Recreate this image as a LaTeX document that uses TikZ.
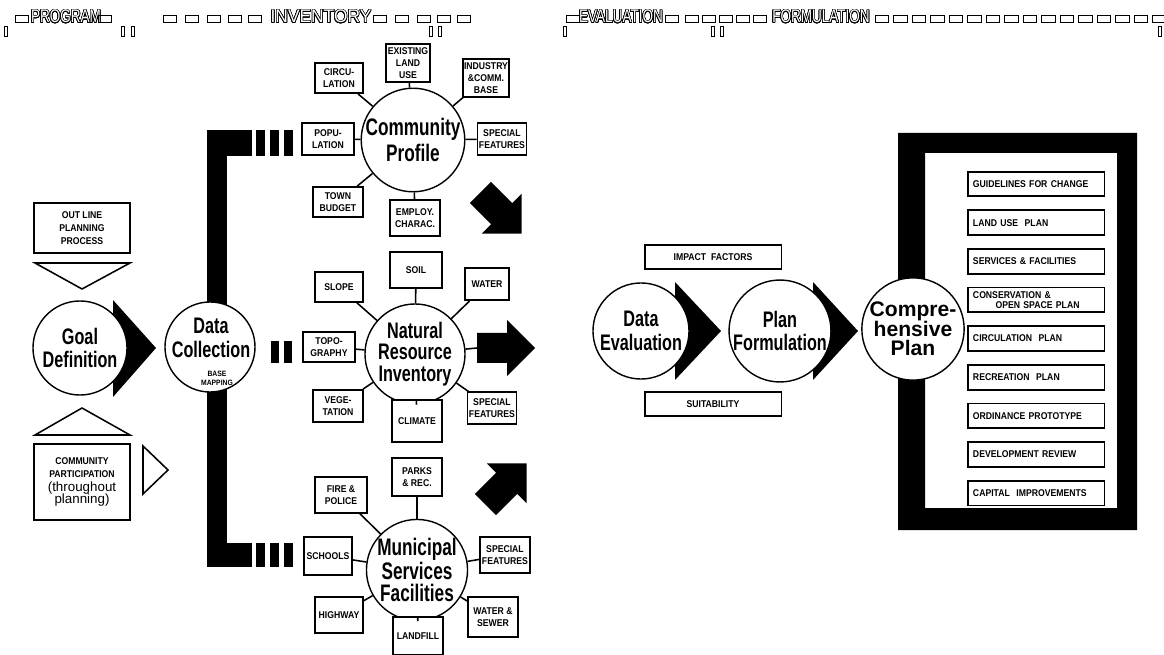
\documentclass[tikz,border=0pt]{standalone}
\usepackage{fontspec}
\setmainfont{Liberation Sans}
\newfontfamily\headfont[FakeStretch=0.74]{Liberation Sans}
\newfontfamily\headwide[FakeStretch=0.95]{Liberation Sans}
\newfontfamily\stagefont[FakeStretch=0.72]{Liberation Sans}
\newfontfamily\boxfont[FakeStretch=0.88]{Liberation Sans}
\usepackage{contour}
\contourlength{0.45pt}
\contournumber{24}
\newcommand{\hollow}[1]{{\color{white}\contour{black}{#1}}}
\usetikzlibrary{positioning, calc}

\begin{document}
\begin{tikzpicture}[x=0.025cm, y=-0.025cm,
  stage/.style={circle, draw, line width=1pt, fill=white, inner sep=0pt, align=center, font=\stagefont\bfseries\fontsize{16}{17}\selectfont},
  sat/.style={rectangle, draw, line width=1.3pt, fill=white, minimum width=1.25cm, minimum height=0.8cm, inner sep=1pt, align=center, font=\boxfont\bfseries\fontsize{7}{8.5}\selectfont},
  side/.style={rectangle, draw, line width=1.3pt, fill=white, minimum width=2.4cm, align=center, font=\boxfont\bfseries\fontsize{7}{9}\selectfont},
  factor/.style={rectangle, draw, line width=1.3pt, minimum width=3.42cm, minimum height=0.58cm, font=\boxfont\bfseries\fontsize{7}{7.5}\selectfont},
  plan/.style={rectangle, draw, line width=1.3pt, fill=white, text width=3.15cm, inner xsep=0.135cm, inner ysep=1pt, minimum height=0.62cm, align=left, font=\boxfont\bfseries\fontsize{7}{7.5}\selectfont},
  spoke/.style={line width=1.1pt},
  hdr/.style={font=\headfont\fontsize{13}{13}\selectfont, inner sep=0pt},
  dsh/.style={rectangle, draw, line width=0.8pt, minimum width=0.33cm, minimum height=0.16cm, inner sep=0pt},
  tick/.style={rectangle, draw, line width=0.7pt, minimum width=0.08cm, minimum height=0.25cm, inner sep=0pt},
  bigarrow/.pic={\fill (-29,-15) -- (1,-15) -- (1,-28) -- (29,0) -- (1,28) -- (1,15) -- (-29,15) -- cycle;},
]
\useasboundingbox (0,0) rectangle (1164,655);

% ── HEADER: phases along the dashed line ──
\node[hdr] (h_prog) at (66,17) {\hollow{PROGRAM}};
\node[hdr, font=\headwide\fontsize{13}{13}\selectfont] (h_inv) at (321,17) {\hollow{INVENTORY}};
\node[hdr] (h_eval) at (621,17) {\hollow{EVALUATION}};
\node[hdr] (h_form) at (821,17) {\hollow{FORMULATION}};
\foreach \x [count=\i] in {22,105,170,192,214,235,255,380,402,424,444,464,573,672,692,709,726,743,760}
  \node[dsh] (hd\i) at (\x,19) {};
\foreach \x [count=\i] in {882,900.5,...,1164}
  \node[dsh] (hr\i) at (\x,19) {};
\foreach \x [count=\i] in {6,123,133,431,440,565,713,722,1160}
  \node[tick] (tk\i) at (\x,31) {};

% ── PROGRAM: goal definition ──
\node[side, minimum height=1.25cm] (outline) at (82,228) {OUT LINE\\PLANNING\\PROCESS};
\draw[line width=1.1pt] (35,263) -- (130,263) -- (82,289) -- cycle;
\fill (113,300) -- (156,348) -- (113,397) -- cycle;
\node[stage, minimum size=2.35cm] (goal) at (80,348) {Goal\\Definition};
\draw[line width=1.1pt] (35,435) -- (130,435) -- (82,408) -- cycle;
\node[side, minimum height=1.88cm] (partic) at (82,482) {COMMUNITY\\PARTICIPATION\\[1pt]{\normalfont\fontsize{9.5}{10}\selectfont(throughout}\\{\normalfont\fontsize{9.5}{10}\selectfont planning)}};
\draw[line width=1.1pt] (143,446) -- (168,470) -- (143,494) -- cycle;

% ── INVENTORY: data collection bracket ──
\fill (207,130) rectangle (227,567);
\fill (207,130) rectangle (252,156);
\fill (207,543) rectangle (252,567);
\foreach \x in {256,270,284} {
  \fill (\x,130) rectangle ++(9,26);
  \fill (\x,543) rectangle ++(9,24);
}
\foreach \x in {271,284} \fill (\x,341) rectangle ++(8,22);
\node[stage, minimum size=2.25cm] (collect) at (210,347) {};
\node[font=\stagefont\bfseries\fontsize{16}{17}\selectfont, align=center, inner sep=0pt] (collect_t) at (211,338) {Data\\Collection};
\node[font=\boxfont\bfseries\fontsize{5.5}{6.5}\selectfont, align=center, inner sep=0pt] (collect_m) at (217,378) {BASE\\MAPPING};

% Community profile
\node[stage, minimum size=2.45cm, font=\stagefont\bfseries\fontsize{17}{18}\selectfont] (profile) at (413,140) {Community\\Profile};
\node[sat, minimum width=1cm, minimum height=0.93cm] (c_land) at (408,63) {EXISTING\\LAND\\USE};
\node[sat, minimum width=1.2cm, minimum height=0.75cm] (c_circ) at (339,78) {CIRCU-\\LATION};
\node[sat, minimum width=1.05cm, minimum height=0.93cm] (c_ind) at (486,78) {INDUSTRY\\\&COMM.\\BASE};
\node[sat, minimum width=1.3cm, minimum height=0.8cm] (c_pop) at (328,139) {POPU-\\LATION};
\node[sat, minimum width=1.2cm, minimum height=0.8cm] (c_spec) at (502,139) {SPECIAL\\FEATURES};
\node[sat, minimum width=1.25cm, minimum height=0.75cm] (c_town) at (338,202) {TOWN\\BUDGET};
\node[sat, minimum width=1.25cm, minimum height=0.88cm] (c_emp) at (415,218) {EMPLOY.\\CHARAC.};
\foreach \s in {c_land, c_circ, c_ind, c_pop, c_spec, c_town, c_emp}
  \draw[spoke] (profile) -- (\s);
\pic[rotate=-45] at (501,213) {bigarrow};

% Natural resource inventory
\node[stage, minimum size=2.5cm, font=\stagefont\bfseries\fontsize{16}{15.5}\selectfont] (natural) at (415,354) {Natural\\Resource\\Inventory};
\node[sat, minimum width=1.3cm, minimum height=0.9cm] (n_soil) at (416,270) {SOIL};
\node[sat, minimum width=1.2cm, minimum height=0.73cm] (n_slope) at (339,287) {SLOPE};
\node[sat, minimum width=1.08cm, minimum height=0.8cm] (n_water) at (487,284) {WATER};
\node[sat, minimum width=1.3cm, minimum height=0.75cm] (n_topo) at (329,347) {TOPO-\\GRAPHY};
\node[sat, minimum width=1.25cm, minimum height=0.8cm] (n_veg) at (338,406) {VEGE-\\TATION};
\node[sat, minimum width=1.25cm, minimum height=1.05cm] (n_clim) at (417,421) {CLIMATE};
\node[sat, minimum width=1.18cm, minimum height=0.78cm] (n_spec) at (492,408) {SPECIAL\\FEATURES};
\coordinate (n_arrow) at (477,348);
\foreach \s in {n_soil, n_slope, n_water, n_topo, n_veg, n_clim, n_spec, n_arrow}
  \draw[spoke] (natural) -- (\s);
\pic at (506,348) {bigarrow};

% Municipal services and facilities
\node[stage, minimum size=2.5cm, font=\stagefont\bfseries\fontsize{17}{15.5}\selectfont] (municipal) at (417,570) {Municipal\\Services\\Facilities};
\node[sat, minimum width=1.25cm, minimum height=0.93cm] (m_parks) at (417,477) {PARKS\\\& REC.};
\node[sat, minimum width=1.3cm, minimum height=0.88cm] (m_fire) at (341,495) {FIRE \&\\POLICE};
\node[sat, minimum width=1.2cm, minimum height=0.95cm] (m_school) at (328,556) {SCHOOLS};
\node[sat, minimum width=1.25cm, minimum height=0.9cm] (m_spec) at (505,555) {SPECIAL\\FEATURES};
\node[sat, minimum width=1.2cm, minimum height=0.9cm] (m_high) at (339,615) {HIGHWAY};
\node[sat, minimum width=1.25cm, minimum height=0.95cm] (m_land) at (418,636) {LANDFILL};
\node[sat, minimum width=1.25cm, minimum height=0.98cm] (m_water) at (493,617) {WATER \&\\SEWER};
\foreach \s in {m_parks, m_fire, m_school, m_spec, m_high, m_land, m_water}
  \draw[spoke] (municipal) -- (\s);
\pic[rotate=45] at (506,484) {bigarrow};

% ── EVALUATION ──
\node[factor] (impact) at (713,257) {IMPACT~~FACTORS};
\node[factor] (suit) at (713,404) {SUITABILITY};
\fill (675,282) -- (721,331) -- (675,380) -- cycle;
\node[stage, minimum size=2.4cm] (evalu) at (641,331) {Data\\Evaluation};

% ── FORMULATION ──
\fill (813,282) -- (858,331) -- (813,380) -- cycle;
\node[stage, minimum size=2.4cm] (formul) at (780,331) {Plan\\Formulation};
\fill[even odd rule] (898,133) rectangle (1137,530) (925,153) rectangle (1117,508);
\node[stage, minimum size=2.5cm, font=\bfseries\fontsize{15}{14}\selectfont] (compre) at (913,329) {Compre-\\hensive\\Plan};

% plan elements, stacked in the frame
\node[plan] (p_guide) at (1036,184) {GUIDELINES FOR CHANGE};
\node[plan, below=0.3cm of p_guide] (p_land) {LAND USE~~PLAN};
\node[plan, below=0.3cm of p_land] (p_serv) {SERVICES \& FACILITIES};
\node[plan, below=0.3cm of p_serv] (p_cons) {CONSERVATION \&\\\hspace*{2.3em}OPEN SPACE PLAN};
\node[plan, below=0.3cm of p_cons] (p_circ) {CIRCULATION~~PLAN};
\node[plan, below=0.3cm of p_circ] (p_rec) {RECREATION~~PLAN};
\node[plan, below=0.3cm of p_rec] (p_ord) {ORDINANCE PROTOTYPE};
\node[plan, below=0.3cm of p_ord] (p_dev) {DEVELOPMENT REVIEW};
\node[plan, below=0.3cm of p_dev] (p_cap) {CAPITAL~~IMPROVEMENTS};

\end{tikzpicture}
\end{document}
